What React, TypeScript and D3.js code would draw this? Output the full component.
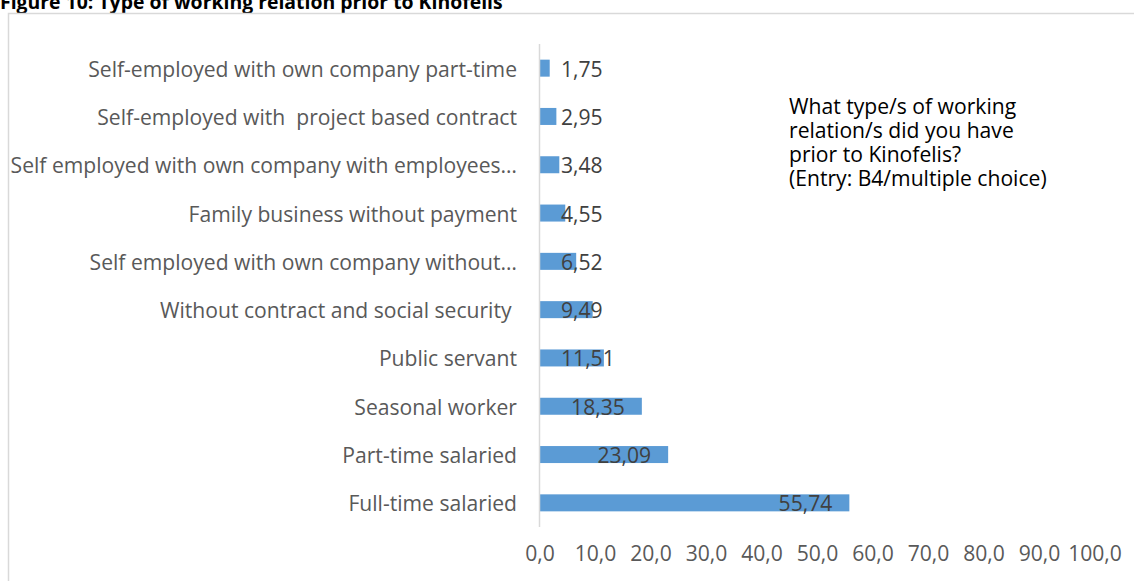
import React from "react";
import * as d3 from "d3";

const title = "Figure 10: Type of working relation prior to Kinofelis";
const categories = [
  "Full-time salaried",
  "Part-time salaried",
  "Seasonal worker",
  "Public servant",
  "Without contract and social security ",
  "Self employed with own company without…",
  "Family business without payment",
  "Self employed with own company with employees…",
  "Self-employed with  project based contract",
  "Self-employed with own company part-time",
];
const values = [55.74, 23.09, 18.35, 11.51, 9.49, 6.52, 4.55, 3.48, 2.95, 1.75];
const tickValues = [0, 10, 20, 30, 40, 50, 60, 70, 80, 90, 100];
const noteLines = [
  "What type/s of working",
  "relation/s did you have",
  "prior to Kinofelis?",
  "(Entry: B4/multiple choice)",
];

const W = 1134;
const H = 581;
const FONT = "'Open Sans', Lato, sans-serif";

let ctx: CanvasRenderingContext2D | null = null;
function measure(t: string, font: string) {
  if (!ctx) ctx = document.createElement("canvas").getContext("2d");
  if (!ctx) return t.length * 9;
  ctx.font = font;
  return ctx.measureText(t).width;
}

const fmt = (v: number, d: number) => v.toFixed(d).replace(".", ",");

export default function App() {
  // fit the substitute font to the widths seen in the reference
  const FS = Math.min(22, Math.max(14, (18 * 429) / measure(categories[9], `18px ${FONT}`)));
  const TFS = Math.min(24, Math.max(14, (19 * 503) / measure(title, `bold 19px ${FONT}`)));

  const x = d3.scaleLinear().domain([0, 100]).range([540, 1095]);
  const order = categories.map((c, i) => i).reverse();
  const y = d3
    .scaleBand<number>()
    .domain(order)
    .range([44, 527])
    .paddingInner(0.648)
    .paddingOuter(0.324);

  return (
    <svg width={W} height={H} style={{ position: "absolute", left: 0, top: 0 }}>
      <rect x={0} y={0} width={W} height={H} fill="#fff" />
      <text x={0} y={9} fontFamily={FONT} fontWeight="bold" fontSize={TFS} fill="#000">
        {title}
      </text>
      <rect x={8.5} y={13.5} width={1300} height={700} fill="#fff" stroke="#D9D9D9" strokeWidth={1.5} />

      {categories.map((c, i) => (
        <text
          key={"c" + i}
          x={x(0) - 23}
          y={(y(i) as number) + y.bandwidth() / 2}
          textAnchor="end"
          dominantBaseline="central"
          fontFamily={FONT}
          fontSize={FS}
          fill="#595959"
          style={{ whiteSpace: "pre" }}
        >
          {c}
        </text>
      ))}

      {values.map((v, i) => (
        <rect
          key={"b" + i}
          x={x(0)}
          y={y(i)}
          width={x(v) - x(0)}
          height={y.bandwidth()}
          fill="#5B9BD5"
        />
      ))}

      <line x1={539.5} x2={539.5} y1={44} y2={527} stroke="#D9D9D9" strokeWidth={1.5} />

      {values.map((v, i) => {
        const t = fmt(v, 2);
        const w = measure(t, `${FS}px ${FONT}`);
        const start = Math.max(x(0) + 21, x(v) - 17 - w);
        return (
          <text
            key={"v" + i}
            x={start}
            y={(y(i) as number) + y.bandwidth() / 2}
            dominantBaseline="central"
            fontFamily={FONT}
            fontSize={FS}
            fill="#404040"
          >
            {t}
          </text>
        );
      })}

      {tickValues.map((t) => (
        <text
          key={"t" + t}
          x={x(t)}
          y={552}
          textAnchor="middle"
          dominantBaseline="central"
          fontFamily={FONT}
          fontSize={FS}
          fill="#595959"
        >
          {fmt(t, 1)}
        </text>
      ))}

      {noteLines.map((l, i) => (
        <text
          key={"n" + i}
          x={789}
          y={105 + i * 24}
          dominantBaseline="central"
          fontFamily={FONT}
          fontSize={FS}
          fill="#000"
        >
          {l}
        </text>
      ))}
    </svg>
  );
}
